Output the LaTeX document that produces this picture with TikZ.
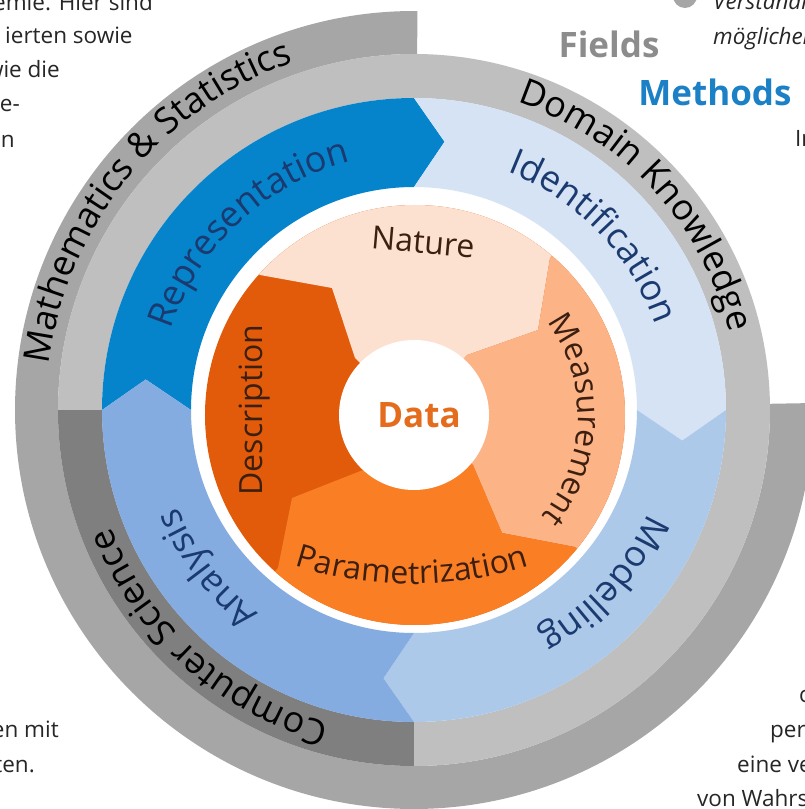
\documentclass[tikz,border=0pt]{standalone}
\usepackage{fontspec}
\setmainfont{Open Sans}
\definecolor{gA}{HTML}{A6A6A6}
\definecolor{gB}{HTML}{BFBFBF}
\definecolor{gC}{HTML}{7F7F7F}
\definecolor{bRep}{HTML}{0584CC}
\definecolor{bIde}{HTML}{D5E3F4}
\definecolor{bMod}{HTML}{ADC9E9}
\definecolor{bAna}{HTML}{85ACE0}
\definecolor{oNat}{HTML}{FDE1D0}
\definecolor{oMea}{HTML}{FCB386}
\definecolor{oPar}{HTML}{FA7E23}
\definecolor{oDes}{HTML}{E15B0A}
\definecolor{navy}{HTML}{1A3A70}
\definecolor{brownish}{HTML}{3C1F10}
\definecolor{dataor}{HTML}{E46C1C}
\definecolor{fieldgray}{HTML}{8C8C8C}
\definecolor{methblue}{HTML}{1B80C6}
\definecolor{bodytext}{HTML}{262626}
\newcommand{\fsz}[1]{\fontsize{#1}{#1}\selectfont}
\newcommand{\spc}{\hspace*{0.26em}}
\newcount\glyphno
\newcommand{\bseg}[3]{%
  \fill[#1] (#2:312pt) arc[start angle=#2,end angle=#3,radius=312pt]
    -- ({#3-6.5}:270pt) -- (#3:223pt)
    arc[start angle=#3,end angle=#2,radius=223pt]
    -- ({#2-6.5}:270pt) -- cycle;}
% #1 colour, #2 size, #3 centre, #4 baseline radius, #5 mid angle, #6 dir (-1 cw / 1 ccw), #7 glyphs
\newcommand{\arctext}[7]{%
  \begingroup
  \fsz{#2}%
  \xdef\totw{0}%
  \foreach \ch in {#7}{\pgfmathparse{\totw+width("\ch")}\xdef\totw{\pgfmathresult}}%
  \pgfmathparse{-\totw/2}\xdef\curs{\pgfmathresult}%
  \begin{scope}[shift={(#3)}]
  \foreach \ch in {#7}{%
    \pgfmathparse{width("\ch")}\let\cw\pgfmathresult
    \pgfmathparse{#5+#6*(\curs+\cw/2)/#4*57.29578}\let\th\pgfmathresult
    \global\advance\glyphno by 1
    \node[text=#1,font=\fsz{#2},inner sep=0pt,anchor=base,rotate={\th+#6*90}]
      (g\the\glyphno) at (\th:#4pt) {\ch};
    \pgfmathparse{\curs+\cw}\xdef\curs{\pgfmathresult}%
  }%
  \end{scope}
  \endgroup}
\begin{document}
\begin{tikzpicture}[x=1pt,y=1pt,
  bodyl/.style={inner sep=0pt,anchor=base east,text=bodytext,font=\fsz{22.5}},
  bodyr/.style={inner sep=0pt,anchor=base west,text=bodytext,font=\fsz{22.5}},
  bodyi/.style={inner sep=0pt,anchor=base west,text=bodytext,font=\itshape\fsz{22.5}},
  olabel/.style={inner sep=0pt,text=brownish,font=\fsz{32}}]
\useasboundingbox (-414,-399) rectangle (391,410);
\clip (-414,-399) rectangle (391,410);
\fill[white] (-414,-399) rectangle (391,410);
% ---- fields rings
\fill[gA] (89.5:399pt) arc[start angle=89.5,end angle=361,radius=399pt]
  -- (361:356pt) arc[start angle=361,end angle=89.5,radius=356pt] -- cycle;
\fill[gB,even odd rule] (0,0) circle[radius=356pt] (0,0) circle[radius=312pt];
\fill[gC] (180:356pt) arc[start angle=180,end angle=270,radius=356pt]
  -- (270:312pt) arc[start angle=270,end angle=180,radius=312pt] -- cycle;
% ---- methods ring
\bseg{bRep}{180}{90}
\bseg{bIde}{90}{0}
\bseg{bMod}{360}{270}
\bseg{bAna}{270}{180}
% ---- data disk
\begin{scope}
\clip (1,-5) circle[radius=210pt];
\fill[oDes] (1,-5) circle[radius=212pt];
\fill[oNat] (-59,52) -- (-82,122) -- (-154,135) -- (-400,360) -- (0,600) -- (408,456)
  -- (136,152) -- (124,80) -- (53,55) -- (0,-5) -- cycle;
\fill[oMea] (53,55) -- (124,80) -- (136,152) -- (408,456) -- (600,0) -- (483,-411)
  -- (161,-137) -- (88,-123) -- (59,-55) -- (0,-5) -- cycle;
\fill[oPar] (59,-55) -- (88,-123) -- (161,-137) -- (483,-411) -- (0,-600) -- (-408,-474)
  -- (-136,-158) -- (-122,-88) -- (-51,-60) -- (0,-5) -- cycle;
\end{scope}
\fill[white] (0,-5) circle[radius=75pt];
\node[text=dataor,font=\bfseries\fsz{35},inner sep=0pt] (data) at (5,-5) {Data};
\node[olabel,rotate=-5] (nature) at (9,168) {Nature};
\node[olabel,rotate=90] (descr) at (-159,0) {Description};
\arctext{brownish}{32}{6,-6}{158}{-1.5}{-1}{M,e,a,s,u,r,e,m,e,n,t}
\arctext{brownish}{32}{-2,210}{384}{270}{1}{P,a,r,a,m,e,t,r,i,z,a,t,i,o,n}
% ---- methods labels
\arctext{navy}{36}{0,0}{256}{133}{-1}{R,e,p,r,e,s,e,n,t,a,t,i,o,n}
\arctext{navy}{36}{0,0}{256}{44}{-1}{I,d,e,n,t,i,f,i,c,a,t,i,o,n}
\arctext{navy}{36}{0,0}{256}{-42.3}{-1}{M,o,d,e,l,l,i,n,g}
\arctext{navy}{36}{0,0}{256}{217.5}{-1}{A,n,a,l,y,s,i,s}
% ---- fields labels
\arctext{black}{36}{0,0}{368}{141}{-1}{M,a,t,h,e,m,a,t,i,c,s,\spc,\&,\spc,S,t,a,t,i,s,t,i,c,s}
\arctext{black}{36}{0,0}{325}{42.6}{-1}{D,o,m,a,i,n,\spc,K,n,o,w,l,e,d,g,e}
\arctext{black}{36}{0,0}{325}{228}{-1}{C,o,m,p,u,t,e,r,\spc,S,c,i,e,n,c,e}
% ---- legend
\node[text=fieldgray,font=\bfseries\fsz{35},inner sep=0pt] (fields) at (195,366) {Fields};
\node[text=methblue,font=\bfseries\fsz{35},inner sep=0pt] (methods) at (301,318) {Methods};
% ---- surrounding page text
\fill[gA] (271,414) circle[radius=12pt];
\node[bodyi] (t8) at (299,400) {Verständlichkeit};
\node[bodyi] (t9) at (299,365) {möglichen};
\node[bodyr] (t10) at (381,263) {In};
\node[bodyl] (t1) at (-261,399) {Chemie. Hier sind};
\node[bodyr] (t2) at (-409,366) {ierten sowie};
\node[bodyl] (t3) at (-354,332) {wie die};
\node[bodyl] (t4) at (-394,298) {e-};
\node[bodyl] (t5) at (-399,262) {en};
\node[bodyl] (t6) at (-355,-327) {en mit};
\node[bodyl] (t7) at (-379,-362) {ten.};
\node[bodyr] (t11) at (385,-292) {c};
\node[bodyr] (t12) at (356,-327) {pers};
\node[bodyr] (t13) at (323,-362) {eine ve};
\node[bodyr] (t14) at (283,-396) {von Wahrs};
\end{tikzpicture}
\end{document}
